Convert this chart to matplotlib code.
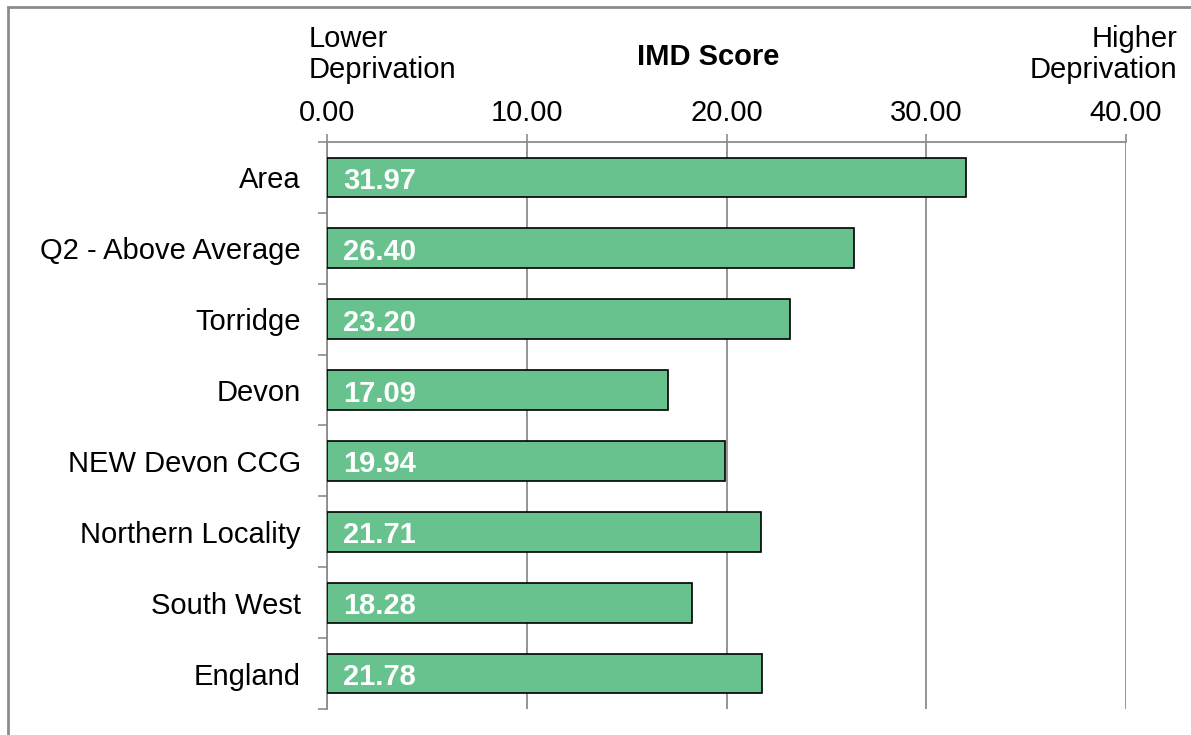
import matplotlib.pyplot as plt
import numpy as np
from matplotlib.patches import Rectangle

plt.rcParams['font.family'] = ['Liberation Sans', 'DejaVu Sans']

# 데이터
categories = ['Area', 'Q2 - Above Average', 'Torridge', 'Devon', 'NEW Devon CCG',
              'Northern Locality', 'South West', 'England']
scores = [31.97, 26.40, 23.20, 17.09, 19.94, 21.71, 18.28, 21.78]
xticks = [0, 10, 20, 30, 40]

FS = 21

fig = plt.figure(figsize=(11.91, 7.35), dpi=100)
ax = fig.add_axes([0.2746, 0.0354, 0.6708, 0.7714])

# 바깥 테두리
fig.patches.append(Rectangle((8 / 1191, -0.1), 1.2, 1.1 - 7 / 735,
                             transform=fig.transFigure, fill=False,
                             edgecolor='#8c8c8c', linewidth=2))

y = np.arange(len(categories))
ax.barh(y, scores, height=0.56, color='#67c28e', edgecolor='black',
        linewidth=1.2, zorder=3)

for yi, v in zip(y, scores):
    ax.text(0.8, yi + 0.05, f'{v:.2f}', color='white', fontweight='bold',
            fontsize=FS, va='center', ha='left', zorder=4)

ax.set_xlim(0, 40)
ax.set_ylim(len(categories) - 0.5, -0.5)
ax.xaxis.tick_top()
ax.set_xticks(xticks)
ax.set_xticklabels([f'{t:.2f}' for t in xticks], fontsize=FS)
ax.tick_params(axis='x', length=6, width=1.2, color='#8c8c8c', pad=5)
ax.grid(axis='x', color='#8c8c8c', linewidth=1.3, zorder=0)

ax.set_yticks(y)
ax.set_yticklabels(categories, fontsize=FS)
ax.set_yticks(np.arange(len(categories) + 1) - 0.5, minor=True)
ax.tick_params(axis='y', which='major', length=0, pad=19)
ax.tick_params(axis='y', which='minor', length=6.5, width=1.2, color='#8c8c8c')

for s in ['right', 'bottom']:
    ax.spines[s].set_visible(False)
for s in ['top', 'left']:
    ax.spines[s].set_color('#8c8c8c')
    ax.spines[s].set_linewidth(1.3)

fig.text(708 / 1191, 1 - 57 / 735, 'IMD Score', fontsize=FS, fontweight='bold',
         ha='center', va='center')
fig.text(309 / 1191, 1 - 25 / 735, 'Lower\nDeprivation', fontsize=FS,
         ha='left', va='top', linespacing=1.13)
fig.text(1177 / 1191, 1 - 25 / 735, 'Higher\nDeprivation', fontsize=FS,
         ha='right', va='top', linespacing=1.13, multialignment='right')

fig.savefig('out.png', dpi=100)
